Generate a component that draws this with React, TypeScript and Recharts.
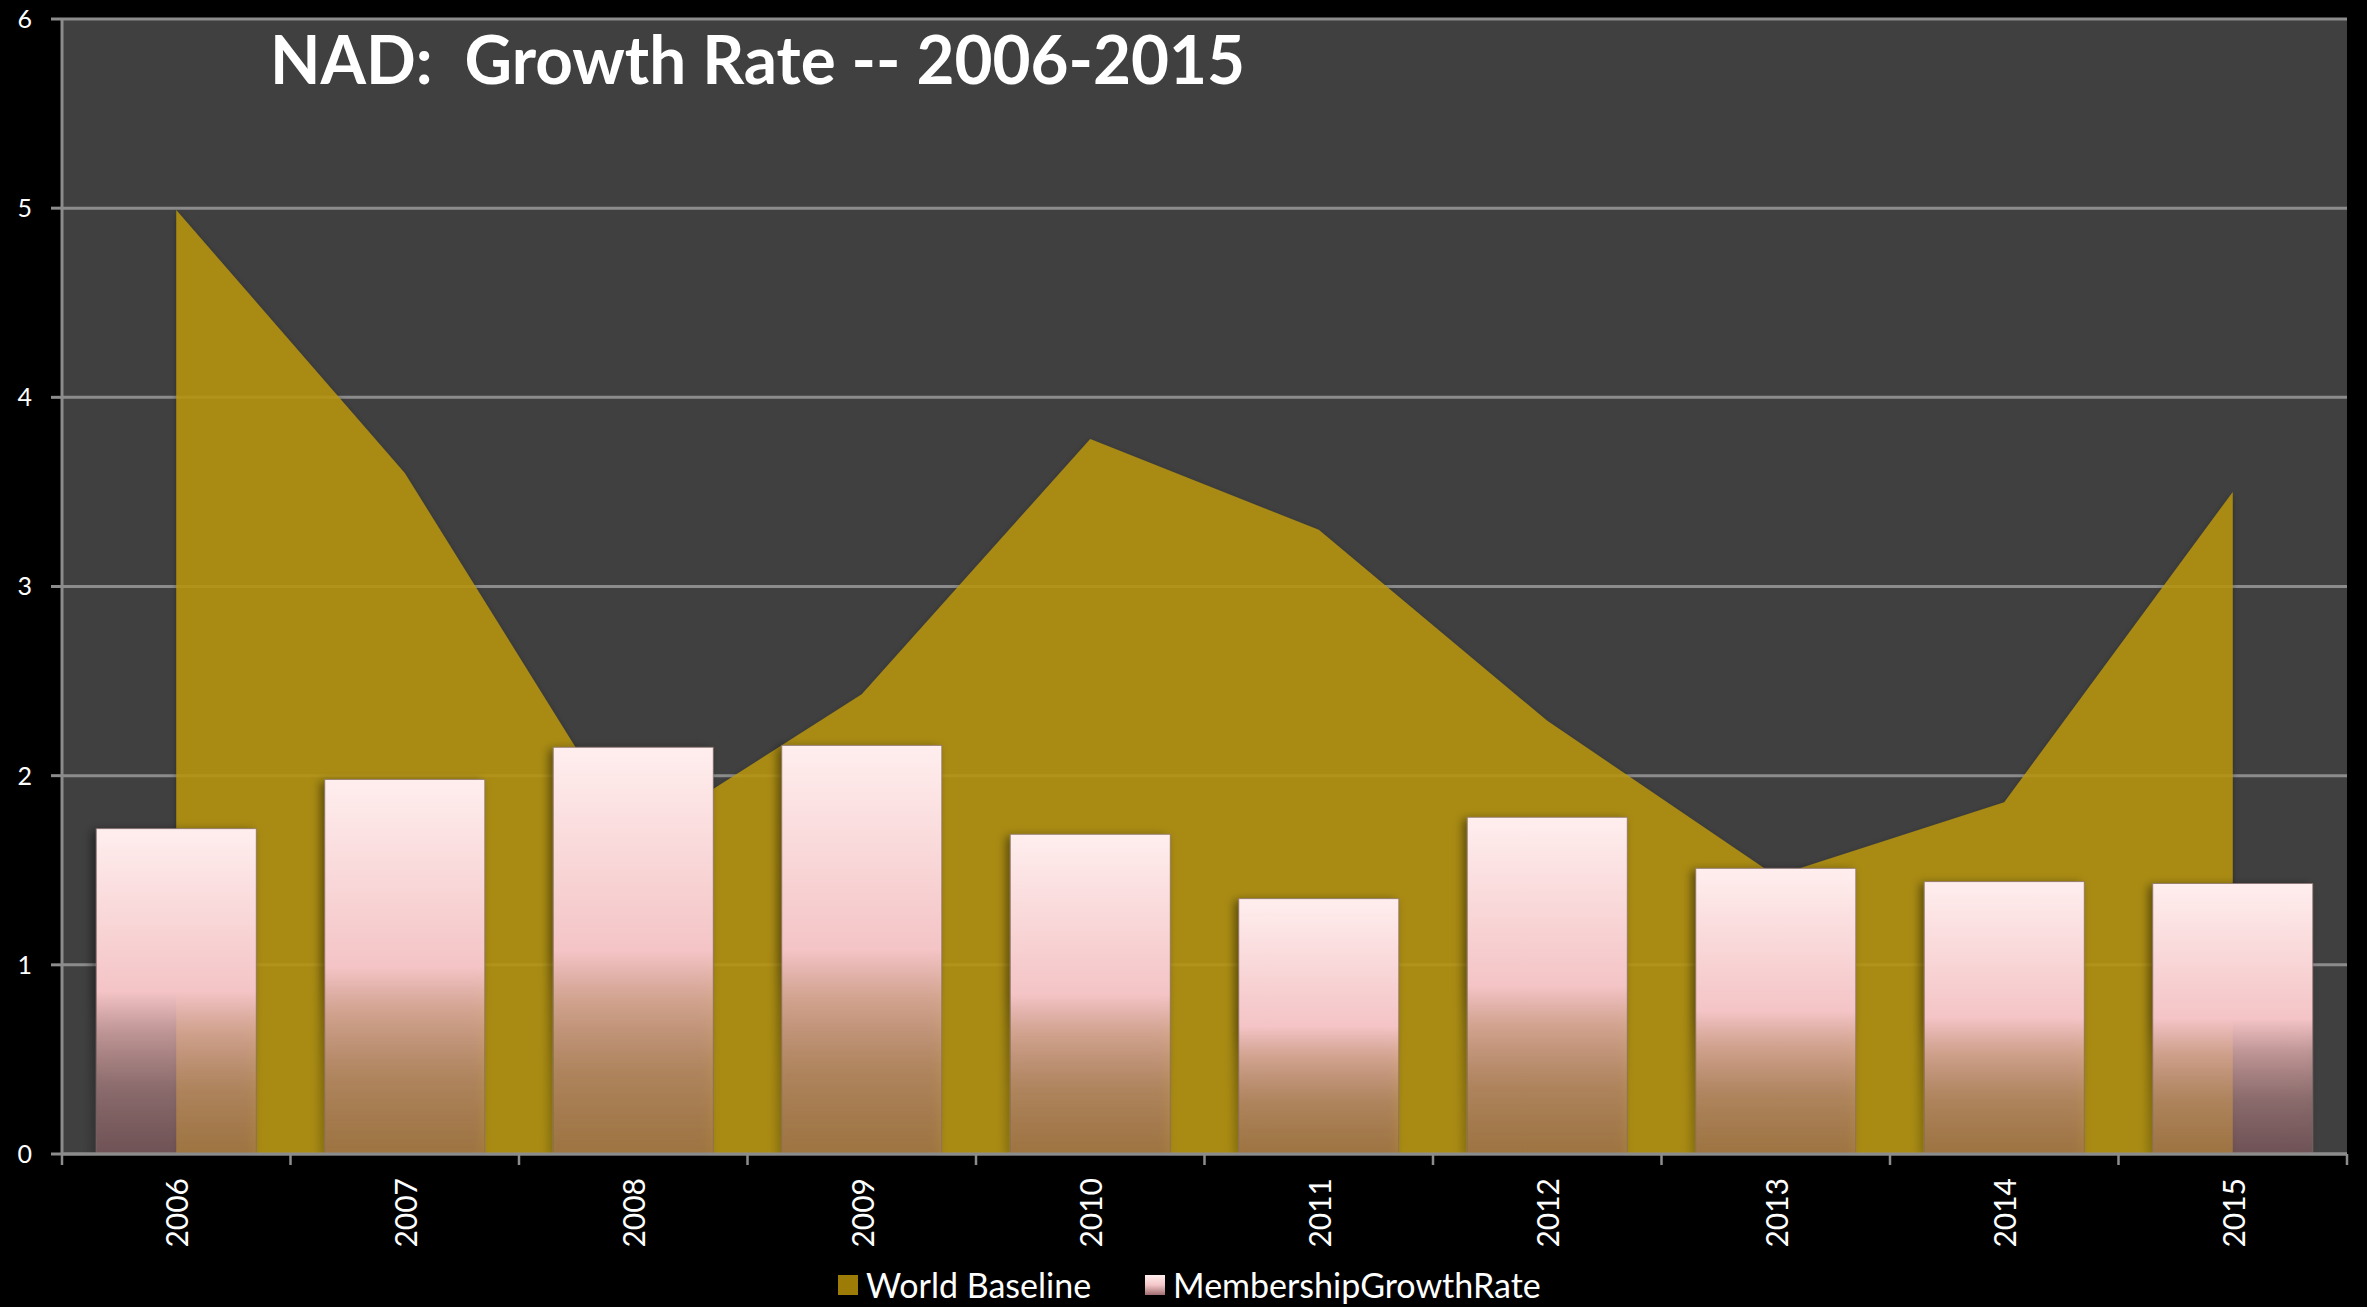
import React from 'react';
import { ComposedChart, Bar, Area, XAxis, YAxis, CartesianGrid, Legend } from 'recharts';

const years = ['2006', '2007', '2008', '2009', '2010', '2011', '2012', '2013', '2014', '2015'];
const worldBaseline = [4.99, 3.6, 1.66, 2.43, 3.78, 3.3, 2.29, 1.47, 1.86, 3.5];
const membershipGrowthRate = [1.72, 1.98, 2.15, 2.16, 1.69, 1.35, 1.78, 1.51, 1.44, 1.43];
const yTicks = [0, 1, 2, 3, 4, 5, 6];
const titleText = 'NAD:  Growth Rate -- 2006-2015';

const data = years.map((y, i) => ({
  year: y,
  world: worldBaseline[i],
  member: membershipGrowthRate[i],
}));

const FONT = 'Lato, "Open Sans", "DejaVu Sans", sans-serif';
const AXIS = '#8c8c8c';

const XTick = (props: any) => {
  const { x, y, payload, index } = props;
  const off = payload && typeof payload.offset === 'number' && payload.offset > 0 ? payload.offset : 114.25;
  return (
    <g>
      {index === 0 && <line x1={x - off} x2={x - off} y1={y} y2={y + 11} stroke={AXIS} strokeWidth={2.5} />}
      <line x1={x + off} x2={x + off} y1={y} y2={y + 11} stroke={AXIS} strokeWidth={2.5} />
      <text
        x={x}
        y={y + 24}
        transform={`rotate(-90, ${x}, ${y + 24})`}
        textAnchor="end"
        dominantBaseline="central"
        fill="#ffffff"
        fontFamily={FONT}
        fontSize={30}
      >
        {payload.value}
      </text>
    </g>
  );
};

const LegendContent = () => (
  <div style={{ display: 'flex', alignItems: 'center', fontFamily: FONT, fontSize: 34, color: '#fff', lineHeight: '40px' }}>
    <div style={{ width: 20, height: 20, background: '#9c7c06', marginRight: 8 }} />
    <span style={{ marginRight: 54 }}>World Baseline</span>
    <div
      style={{
        width: 20,
        height: 20,
        background: 'linear-gradient(#ffeeee 0%, #f4c6c8 50%, #a06e72 100%)',
        marginRight: 8,
      }}
    />
    <span>MembershipGrowthRate</span>
  </div>
);

const BarShape = (props: any) => {
  const { x, y, width, height } = props;
  if (!height || height <= 0) return null;
  return (
    <rect
      x={x}
      y={y}
      width={width}
      height={height}
      fill="url(#barGrad)"
      stroke="rgba(130,105,105,0.7)"
      strokeWidth={1}
      filter="url(#barShadow)"
    />
  );
};

export default function App() {
  return (
    <div style={{ position: 'fixed', left: 0, top: 0, width: 2367, height: 1307, background: '#000' }}>
      <ComposedChart
        width={2367}
        height={1307}
        data={data}
        margin={{ top: 19, right: 20, left: 0, bottom: 53 }}
        barCategoryGap="15%"
      >
        <defs>
          <linearGradient id="barGrad" x1="0" y1="0" x2="0" y2="1">
            <stop offset="0%" stopColor="#ffeeee" stopOpacity={1} />
            <stop offset="50%" stopColor="#f4c4c6" stopOpacity={1} />
            <stop offset="62%" stopColor="#e4b0b0" stopOpacity={0.75} />
            <stop offset="80%" stopColor="#c08c8e" stopOpacity={0.55} />
            <stop offset="100%" stopColor="#a46c72" stopOpacity={0.44} />
          </linearGradient>
          <filter id="barShadow" x="-20%" y="-10%" width="140%" height="120%">
            <feDropShadow dx={-4} dy={2} stdDeviation={5} floodColor="#000" floodOpacity={0.45} />
          </filter>
          <filter id="areaShadow" x="-5%" y="-5%" width="110%" height="110%">
            <feDropShadow dx={0} dy={2} stdDeviation={3} floodColor="#000" floodOpacity={0.35} />
          </filter>
        </defs>
        <CartesianGrid vertical={false} horizontal={true} fill="#404040" stroke={AXIS} strokeWidth={3} strokeOpacity={1} />
        <XAxis
          dataKey="year"
          height={100}
          tickLine={false}
          tickSize={0}
          tickMargin={0}
          axisLine={{ stroke: AXIS, strokeWidth: 3 }}
          tick={<XTick />}
          interval={0}
        />
        <YAxis
          width={62}
          domain={[0, 6]}
          ticks={yTicks}
          interval={0}
          tickSize={11}
          tickMargin={19}
          tickLine={{ stroke: AXIS, strokeWidth: 3 }}
          axisLine={{ stroke: AXIS, strokeWidth: 3 }}
          tick={{ fill: '#ffffff', fontFamily: FONT, fontSize: 25 }}
        />
        <Area
          type="linear"
          dataKey="world"
          name="World Baseline"
          stroke="none"
          fill="rgb(186,150,10)"
          fillOpacity={0.85}
          isAnimationActive={false}
          dot={false}
          activeDot={false}
          style={{ filter: 'url(#areaShadow)' }}
        />
        <Bar
          dataKey="member"
          name="MembershipGrowthRate"
          isAnimationActive={false}
          shape={<BarShape />}
        />
        <Legend
          verticalAlign="middle"
          align="center"
          layout="horizontal"
          content={<LegendContent />}
          wrapperStyle={{ top: 1265, left: 838, width: 1000, height: 40 }}
        />
      </ComposedChart>
      <svg style={{ position: 'absolute', left: 0, top: 0, pointerEvents: 'none' }} width={2367} height={140}>
        <text
          x={270}
          y={84}
          fill="#ffffff"
          fontFamily={FONT}
          fontWeight={700}
          fontSize={66}
          textLength={975}
          lengthAdjust="spacingAndGlyphs"
          style={{ whiteSpace: 'pre' }}
        >
          {titleText}
        </text>
      </svg>
    </div>
  );
}
